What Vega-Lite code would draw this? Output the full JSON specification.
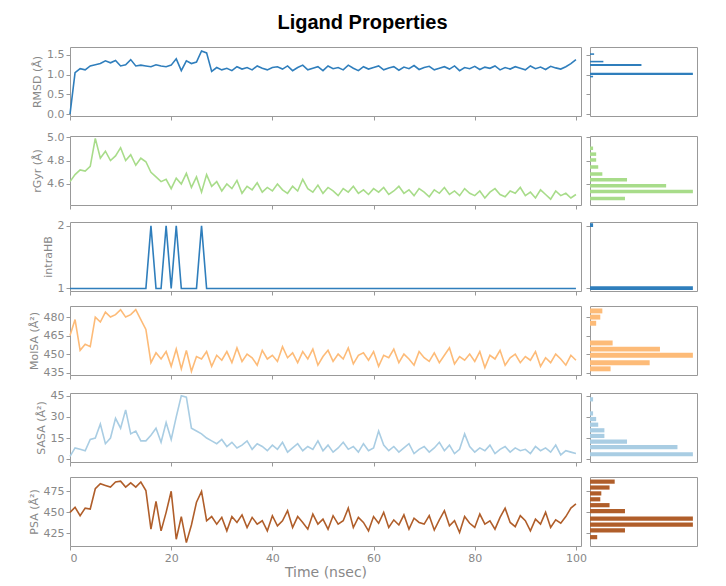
{
"$schema":"https://vega.github.io/schema/vega-lite/v6.json",
"padding":{"left":27,"top":12,"right":5,"bottom":5},
"title":{"text":"Ligand Properties","fontSize":20,"font":"Liberation Sans","fontWeight":"bold","color":"#000","offset":14,"anchor":"middle"},
"config":{"font":"DejaVu Sans","view":{"stroke":"#999"},"axis":{"grid":false,"domain":false,"tickColor":"#999","labelColor":"#888","titleColor":"#888","labelFontSize":11,"titleFontSize":11,"titleFontWeight":"normal","tickSize":4}},
"datasets":{
"ts":[
{"t":0,"rmsd":0,"rgyr":4.62,"hb":1,"molsa":465,"sasa":2,"psa":450},
{"t":1,"rmsd":1.05,"rgyr":4.68,"hb":1,"molsa":478,"sasa":8,"psa":456},
{"t":2,"rmsd":1.15,"rgyr":4.72,"hb":1,"molsa":453,"sasa":7,"psa":446},
{"t":3,"rmsd":1.12,"rgyr":4.71,"hb":1,"molsa":458,"sasa":6,"psa":455},
{"t":4,"rmsd":1.22,"rgyr":4.75,"hb":1,"molsa":456,"sasa":14,"psa":454},
{"t":5,"rmsd":1.25,"rgyr":4.99,"hb":1,"molsa":480,"sasa":15,"psa":478},
{"t":6,"rmsd":1.28,"rgyr":4.82,"hb":1,"molsa":476,"sasa":25,"psa":484},
{"t":7,"rmsd":1.35,"rgyr":4.88,"hb":1,"molsa":484,"sasa":11,"psa":482},
{"t":8,"rmsd":1.30,"rgyr":4.80,"hb":1,"molsa":480,"sasa":15,"psa":480},
{"t":9,"rmsd":1.36,"rgyr":4.84,"hb":1,"molsa":482,"sasa":29,"psa":486},
{"t":10,"rmsd":1.22,"rgyr":4.91,"hb":1,"molsa":486,"sasa":22,"psa":487},
{"t":11,"rmsd":1.25,"rgyr":4.80,"hb":1,"molsa":480,"sasa":35,"psa":480},
{"t":12,"rmsd":1.38,"rgyr":4.85,"hb":1,"molsa":482,"sasa":18,"psa":485},
{"t":13,"rmsd":1.22,"rgyr":4.76,"hb":1,"molsa":486,"sasa":20,"psa":480},
{"t":14,"rmsd":1.24,"rgyr":4.82,"hb":1,"molsa":478,"sasa":13,"psa":486},
{"t":15,"rmsd":1.22,"rgyr":4.79,"hb":1,"molsa":470,"sasa":13,"psa":476},
{"t":16,"rmsd":1.20,"rgyr":4.70,"hb":2,"molsa":443,"sasa":17,"psa":430},
{"t":17,"rmsd":1.25,"rgyr":4.66,"hb":1,"molsa":451,"sasa":22,"psa":463},
{"t":18,"rmsd":1.22,"rgyr":4.62,"hb":1,"molsa":446,"sasa":12,"psa":428},
{"t":19,"rmsd":1.20,"rgyr":4.64,"hb":2,"molsa":452,"sasa":26,"psa":450},
{"t":20,"rmsd":1.24,"rgyr":4.56,"hb":1,"molsa":440,"sasa":14,"psa":475},
{"t":21,"rmsd":1.40,"rgyr":4.65,"hb":2,"molsa":454,"sasa":30,"psa":418},
{"t":22,"rmsd":1.10,"rgyr":4.60,"hb":1,"molsa":438,"sasa":45,"psa":445},
{"t":23,"rmsd":1.35,"rgyr":4.69,"hb":1,"molsa":453,"sasa":44,"psa":414},
{"t":24,"rmsd":1.28,"rgyr":4.57,"hb":1,"molsa":436,"sasa":22,"psa":435},
{"t":25,"rmsd":1.32,"rgyr":4.66,"hb":1,"molsa":448,"sasa":20,"psa":462},
{"t":26,"rmsd":1.60,"rgyr":4.53,"hb":2,"molsa":446,"sasa":18,"psa":475},
{"t":27,"rmsd":1.55,"rgyr":4.68,"hb":1,"molsa":452,"sasa":15,"psa":440},
{"t":28,"rmsd":1.08,"rgyr":4.58,"hb":1,"molsa":440,"sasa":13,"psa":445},
{"t":29,"rmsd":1.18,"rgyr":4.62,"hb":1,"molsa":449,"sasa":11,"psa":436},
{"t":30,"rmsd":1.12,"rgyr":4.54,"hb":1,"molsa":445,"sasa":14,"psa":444},
{"t":31,"rmsd":1.16,"rgyr":4.60,"hb":1,"molsa":452,"sasa":9,"psa":428},
{"t":32,"rmsd":1.10,"rgyr":4.56,"hb":1,"molsa":443,"sasa":12,"psa":445},
{"t":33,"rmsd":1.20,"rgyr":4.63,"hb":1,"molsa":455,"sasa":8,"psa":438},
{"t":34,"rmsd":1.14,"rgyr":4.52,"hb":1,"molsa":444,"sasa":10,"psa":447},
{"t":35,"rmsd":1.18,"rgyr":4.58,"hb":1,"molsa":450,"sasa":13,"psa":432},
{"t":36,"rmsd":1.12,"rgyr":4.55,"hb":1,"molsa":447,"sasa":7,"psa":444},
{"t":37,"rmsd":1.22,"rgyr":4.61,"hb":1,"molsa":441,"sasa":11,"psa":436},
{"t":38,"rmsd":1.16,"rgyr":4.53,"hb":1,"molsa":453,"sasa":9,"psa":440},
{"t":39,"rmsd":1.12,"rgyr":4.57,"hb":1,"molsa":446,"sasa":6,"psa":428},
{"t":40,"rmsd":1.18,"rgyr":4.54,"hb":1,"molsa":449,"sasa":10,"psa":446},
{"t":41,"rmsd":1.20,"rgyr":4.60,"hb":1,"molsa":444,"sasa":7,"psa":434},
{"t":42,"rmsd":1.14,"rgyr":4.55,"hb":1,"molsa":456,"sasa":12,"psa":440},
{"t":43,"rmsd":1.22,"rgyr":4.52,"hb":1,"molsa":447,"sasa":5,"psa":452},
{"t":44,"rmsd":1.10,"rgyr":4.58,"hb":1,"molsa":451,"sasa":8,"psa":432},
{"t":45,"rmsd":1.18,"rgyr":4.54,"hb":1,"molsa":443,"sasa":11,"psa":445},
{"t":46,"rmsd":1.24,"rgyr":4.64,"hb":1,"molsa":452,"sasa":6,"psa":438},
{"t":47,"rmsd":1.12,"rgyr":4.56,"hb":1,"molsa":446,"sasa":9,"psa":430},
{"t":48,"rmsd":1.16,"rgyr":4.53,"hb":1,"molsa":454,"sasa":7,"psa":448},
{"t":49,"rmsd":1.20,"rgyr":4.59,"hb":1,"molsa":441,"sasa":13,"psa":436},
{"t":50,"rmsd":1.10,"rgyr":4.52,"hb":1,"molsa":448,"sasa":6,"psa":442},
{"t":51,"rmsd":1.22,"rgyr":4.57,"hb":1,"molsa":453,"sasa":10,"psa":430},
{"t":52,"rmsd":1.15,"rgyr":4.54,"hb":1,"molsa":444,"sasa":5,"psa":446},
{"t":53,"rmsd":1.18,"rgyr":4.50,"hb":1,"molsa":450,"sasa":8,"psa":436},
{"t":54,"rmsd":1.12,"rgyr":4.56,"hb":1,"molsa":446,"sasa":12,"psa":440},
{"t":55,"rmsd":1.24,"rgyr":4.53,"hb":1,"molsa":455,"sasa":7,"psa":455},
{"t":56,"rmsd":1.16,"rgyr":4.58,"hb":1,"molsa":442,"sasa":9,"psa":432},
{"t":57,"rmsd":1.10,"rgyr":4.52,"hb":1,"molsa":449,"sasa":5,"psa":444},
{"t":58,"rmsd":1.20,"rgyr":4.55,"hb":1,"molsa":451,"sasa":11,"psa":438},
{"t":59,"rmsd":1.14,"rgyr":4.51,"hb":1,"molsa":445,"sasa":6,"psa":428},
{"t":60,"rmsd":1.18,"rgyr":4.56,"hb":1,"molsa":452,"sasa":8,"psa":445},
{"t":61,"rmsd":1.22,"rgyr":4.53,"hb":1,"molsa":440,"sasa":20,"psa":437},
{"t":62,"rmsd":1.12,"rgyr":4.57,"hb":1,"molsa":449,"sasa":10,"psa":450},
{"t":63,"rmsd":1.17,"rgyr":4.51,"hb":1,"molsa":447,"sasa":6,"psa":432},
{"t":64,"rmsd":1.20,"rgyr":4.54,"hb":1,"molsa":454,"sasa":9,"psa":441},
{"t":65,"rmsd":1.11,"rgyr":4.58,"hb":1,"molsa":443,"sasa":5,"psa":435},
{"t":66,"rmsd":1.19,"rgyr":4.52,"hb":1,"molsa":450,"sasa":8,"psa":447},
{"t":67,"rmsd":1.15,"rgyr":4.55,"hb":1,"molsa":446,"sasa":11,"psa":430},
{"t":68,"rmsd":1.23,"rgyr":4.50,"hb":1,"molsa":441,"sasa":4,"psa":443},
{"t":69,"rmsd":1.13,"rgyr":4.56,"hb":1,"molsa":452,"sasa":7,"psa":438},
{"t":70,"rmsd":1.18,"rgyr":4.53,"hb":1,"molsa":447,"sasa":9,"psa":436},
{"t":71,"rmsd":1.21,"rgyr":4.49,"hb":1,"molsa":444,"sasa":5,"psa":446},
{"t":72,"rmsd":1.12,"rgyr":4.55,"hb":1,"molsa":451,"sasa":8,"psa":429},
{"t":73,"rmsd":1.16,"rgyr":4.52,"hb":1,"molsa":443,"sasa":12,"psa":441},
{"t":74,"rmsd":1.20,"rgyr":4.57,"hb":1,"molsa":449,"sasa":6,"psa":452},
{"t":75,"rmsd":1.14,"rgyr":4.51,"hb":1,"molsa":455,"sasa":10,"psa":434},
{"t":76,"rmsd":1.22,"rgyr":4.54,"hb":1,"molsa":442,"sasa":4,"psa":440},
{"t":77,"rmsd":1.10,"rgyr":4.50,"hb":1,"molsa":448,"sasa":7,"psa":426},
{"t":78,"rmsd":1.18,"rgyr":4.56,"hb":1,"molsa":445,"sasa":18,"psa":445},
{"t":79,"rmsd":1.15,"rgyr":4.52,"hb":1,"molsa":450,"sasa":9,"psa":437},
{"t":80,"rmsd":1.21,"rgyr":4.50,"hb":1,"molsa":444,"sasa":5,"psa":432},
{"t":81,"rmsd":1.13,"rgyr":4.54,"hb":1,"molsa":452,"sasa":8,"psa":448},
{"t":82,"rmsd":1.19,"rgyr":4.48,"hb":1,"molsa":439,"sasa":6,"psa":436},
{"t":83,"rmsd":1.16,"rgyr":4.53,"hb":1,"molsa":449,"sasa":10,"psa":440},
{"t":84,"rmsd":1.22,"rgyr":4.56,"hb":1,"molsa":446,"sasa":4,"psa":430},
{"t":85,"rmsd":1.12,"rgyr":4.51,"hb":1,"molsa":453,"sasa":7,"psa":444},
{"t":86,"rmsd":1.18,"rgyr":4.49,"hb":1,"molsa":441,"sasa":9,"psa":455},
{"t":87,"rmsd":1.14,"rgyr":4.54,"hb":1,"molsa":447,"sasa":5,"psa":438},
{"t":88,"rmsd":1.20,"rgyr":4.52,"hb":1,"molsa":450,"sasa":8,"psa":433},
{"t":89,"rmsd":1.16,"rgyr":4.57,"hb":1,"molsa":443,"sasa":6,"psa":446},
{"t":90,"rmsd":1.12,"rgyr":4.50,"hb":1,"molsa":448,"sasa":7,"psa":440},
{"t":91,"rmsd":1.22,"rgyr":4.53,"hb":1,"molsa":445,"sasa":4,"psa":428},
{"t":92,"rmsd":1.15,"rgyr":4.48,"hb":1,"molsa":452,"sasa":9,"psa":442},
{"t":93,"rmsd":1.19,"rgyr":4.55,"hb":1,"molsa":440,"sasa":6,"psa":436},
{"t":94,"rmsd":1.13,"rgyr":4.51,"hb":1,"molsa":447,"sasa":8,"psa":450},
{"t":95,"rmsd":1.21,"rgyr":4.47,"hb":1,"molsa":443,"sasa":5,"psa":432},
{"t":96,"rmsd":1.17,"rgyr":4.54,"hb":1,"molsa":450,"sasa":10,"psa":441},
{"t":97,"rmsd":1.14,"rgyr":4.50,"hb":1,"molsa":446,"sasa":3,"psa":437},
{"t":98,"rmsd":1.20,"rgyr":4.52,"hb":1,"molsa":441,"sasa":6,"psa":445},
{"t":99,"rmsd":1.28,"rgyr":4.48,"hb":1,"molsa":449,"sasa":5,"psa":455},
{"t":100,"rmsd":1.38,"rgyr":4.51,"hb":1,"molsa":445,"sasa":4,"psa":460}
],
"h":[
{"v":"rmsd","lo":0.93,"hi":0.97,"n":3},
{"v":"rmsd","lo":0.99,"hi":1.05,"n":100},
{"v":"rmsd","lo":1.22,"hi":1.27,"n":50},
{"v":"rmsd","lo":1.31,"hi":1.35,"n":13},
{"v":"rmsd","lo":1.50,"hi":1.54,"n":4},
{"v":"rgyr","lo":4.89,"hi":4.92,"n":3},
{"v":"rgyr","lo":4.84,"hi":4.87,"n":6},
{"v":"rgyr","lo":4.79,"hi":4.82,"n":6},
{"v":"rgyr","lo":4.73,"hi":4.76,"n":8},
{"v":"rgyr","lo":4.67,"hi":4.70,"n":12},
{"v":"rgyr","lo":4.62,"hi":4.65,"n":36},
{"v":"rgyr","lo":4.57,"hi":4.60,"n":74},
{"v":"rgyr","lo":4.52,"hi":4.55,"n":100},
{"v":"rgyr","lo":4.46,"hi":4.49,"n":34},
{"v":"hb","lo":1.98,"hi":2.04,"n":3},
{"v":"hb","lo":0.975,"hi":1.035,"n":100},
{"v":"molsa","lo":483,"hi":487,"n":12},
{"v":"molsa","lo":478,"hi":482,"n":10},
{"v":"molsa","lo":473,"hi":477,"n":6},
{"v":"molsa","lo":457,"hi":461,"n":22},
{"v":"molsa","lo":452,"hi":456,"n":68},
{"v":"molsa","lo":447,"hi":451,"n":100},
{"v":"molsa","lo":441,"hi":445,"n":58},
{"v":"molsa","lo":436,"hi":440,"n":20},
{"v":"sasa","lo":41,"hi":44,"n":3},
{"v":"sasa","lo":31,"hi":34,"n":3},
{"v":"sasa","lo":27,"hi":30,"n":6},
{"v":"sasa","lo":23,"hi":26,"n":8},
{"v":"sasa","lo":19,"hi":22,"n":14},
{"v":"sasa","lo":15,"hi":18,"n":14},
{"v":"sasa","lo":11,"hi":14,"n":36},
{"v":"sasa","lo":7,"hi":10,"n":85},
{"v":"sasa","lo":2,"hi":5,"n":100},
{"v":"psa","lo":484,"hi":489,"n":24},
{"v":"psa","lo":477,"hi":482,"n":19},
{"v":"psa","lo":470,"hi":475,"n":11},
{"v":"psa","lo":463,"hi":468,"n":10},
{"v":"psa","lo":456,"hi":461,"n":19},
{"v":"psa","lo":449,"hi":454,"n":34},
{"v":"psa","lo":440,"hi":445,"n":100},
{"v":"psa","lo":433,"hi":438,"n":100},
{"v":"psa","lo":426,"hi":431,"n":34},
{"v":"psa","lo":418,"hi":423,"n":7}
]},
"vconcat":[
{"hconcat":[
{"width":511,"height":69,"data":{"name":"ts"},"mark":{"type":"line","color":"#2f7ebc","strokeWidth":1.6},"encoding":{"x":{"field":"t","type":"quantitative","scale":{"domain":[0,101]},"axis":{"labels":false,"title":null,"values":[0,20,40,60,80,100]}},"y":{"field":"rmsd","type":"quantitative","scale":{"domain":[-0.05,1.7],"nice":false},"axis":{"title":"RMSD (Å)","values":[0,0.5,1,1.5],"format":".1f"}}}},
{"width":107,"height":69,"data":{"name":"h"},"transform":[{"filter":"datum.v=='rmsd'"}],"mark":{"type":"bar","color":"#2f7ebc"},"encoding":{"x":{"field":"n","type":"quantitative","scale":{"domain":[0,104]},"axis":null},"x2":{"datum":0},"y":{"field":"lo","type":"quantitative","scale":{"domain":[-0.05,1.7],"nice":false},"axis":{"labels":false,"title":null,"values":[0,0.5,1,1.5]}},"y2":{"field":"hi"}}}
],"spacing":9,"bounds":"flush"},
{"hconcat":[
{"width":511,"height":69,"data":{"name":"ts"},"mark":{"type":"line","color":"#a8dc8a","strokeWidth":1.6},"encoding":{"x":{"field":"t","type":"quantitative","scale":{"domain":[0,101]},"axis":{"labels":false,"title":null,"values":[0,20,40,60,80,100]}},"y":{"field":"rgyr","type":"quantitative","scale":{"domain":[4.42,5.01],"nice":false},"axis":{"title":"rGyr (Å)","values":[4.6,4.8,5.0],"format":".1f"}}}},
{"width":107,"height":69,"data":{"name":"h"},"transform":[{"filter":"datum.v=='rgyr'"}],"mark":{"type":"bar","color":"#a8dc8a"},"encoding":{"x":{"field":"n","type":"quantitative","scale":{"domain":[0,104]},"axis":null},"x2":{"datum":0},"y":{"field":"lo","type":"quantitative","scale":{"domain":[4.42,5.01],"nice":false},"axis":{"labels":false,"title":null,"values":[4.6,4.8,5.0]}},"y2":{"field":"hi"}}}
],"spacing":9,"bounds":"flush"},
{"hconcat":[
{"width":511,"height":69,"data":{"name":"ts"},"mark":{"type":"line","color":"#2f7ebc","strokeWidth":1.6},"encoding":{"x":{"field":"t","type":"quantitative","scale":{"domain":[0,101]},"axis":{"labels":false,"title":null,"values":[0,20,40,60,80,100]}},"y":{"field":"hb","type":"quantitative","scale":{"domain":[0.96,2.06],"nice":false},"axis":{"title":"intraHB","values":[1,2],"format":"d"}}}},
{"width":107,"height":69,"data":{"name":"h"},"transform":[{"filter":"datum.v=='hb'"}],"mark":{"type":"bar","color":"#2f7ebc"},"encoding":{"x":{"field":"n","type":"quantitative","scale":{"domain":[0,104]},"axis":null},"x2":{"datum":0},"y":{"field":"lo","type":"quantitative","scale":{"domain":[0.96,2.06],"nice":false},"axis":{"labels":false,"title":null,"values":[1,2]}},"y2":{"field":"hi"}}}
],"spacing":9,"bounds":"flush"},
{"hconcat":[
{"width":511,"height":69,"data":{"name":"ts"},"mark":{"type":"line","color":"#fdbb78","strokeWidth":1.6},"encoding":{"x":{"field":"t","type":"quantitative","scale":{"domain":[0,101]},"axis":{"labels":false,"title":null,"values":[0,20,40,60,80,100]}},"y":{"field":"molsa","type":"quantitative","scale":{"domain":[433,489],"nice":false},"axis":{"title":"MolSA (Å²)","values":[435,450,465,480]}}}},
{"width":107,"height":69,"data":{"name":"h"},"transform":[{"filter":"datum.v=='molsa'"}],"mark":{"type":"bar","color":"#fdbb78"},"encoding":{"x":{"field":"n","type":"quantitative","scale":{"domain":[0,104]},"axis":null},"x2":{"datum":0},"y":{"field":"lo","type":"quantitative","scale":{"domain":[433,489],"nice":false},"axis":{"labels":false,"title":null,"values":[435,450,465,480]}},"y2":{"field":"hi"}}}
],"spacing":9,"bounds":"flush"},
{"hconcat":[
{"width":511,"height":69,"data":{"name":"ts"},"mark":{"type":"line","color":"#a9cde3","strokeWidth":1.6},"encoding":{"x":{"field":"t","type":"quantitative","scale":{"domain":[0,101]},"axis":{"labels":false,"title":null,"values":[0,20,40,60,80,100]}},"y":{"field":"sasa","type":"quantitative","scale":{"domain":[-2,47],"nice":false},"axis":{"title":"SASA (Å²)","values":[0,15,30,45]}}}},
{"width":107,"height":69,"data":{"name":"h"},"transform":[{"filter":"datum.v=='sasa'"}],"mark":{"type":"bar","color":"#a9cde3"},"encoding":{"x":{"field":"n","type":"quantitative","scale":{"domain":[0,104]},"axis":null},"x2":{"datum":0},"y":{"field":"lo","type":"quantitative","scale":{"domain":[-2,47],"nice":false},"axis":{"labels":false,"title":null,"values":[0,15,30,45]}},"y2":{"field":"hi"}}}
],"spacing":9,"bounds":"flush"},
{"hconcat":[
{"width":511,"height":69,"data":{"name":"ts"},"mark":{"type":"line","color":"#b05e2a","strokeWidth":1.6},"encoding":{"x":{"field":"t","type":"quantitative","scale":{"domain":[0,101]},"axis":{"title":"Time (nsec)","titleFontSize":14,"titlePadding":2,"values":[0,20,40,60,80,100]}},"y":{"field":"psa","type":"quantitative","scale":{"domain":[410,492],"nice":false},"axis":{"title":"PSA (Å²)","values":[425,450,475]}}}},
{"width":107,"height":69,"data":{"name":"h"},"transform":[{"filter":"datum.v=='psa'"}],"mark":{"type":"bar","color":"#b05e2a"},"encoding":{"x":{"field":"n","type":"quantitative","scale":{"domain":[0,104]},"axis":null},"x2":{"datum":0},"y":{"field":"lo","type":"quantitative","scale":{"domain":[410,492],"nice":false},"axis":{"labels":false,"title":null,"values":[425,450,475]}},"y2":{"field":"hi"}}}
],"spacing":9,"bounds":"flush"}
],
"spacing":9
}
